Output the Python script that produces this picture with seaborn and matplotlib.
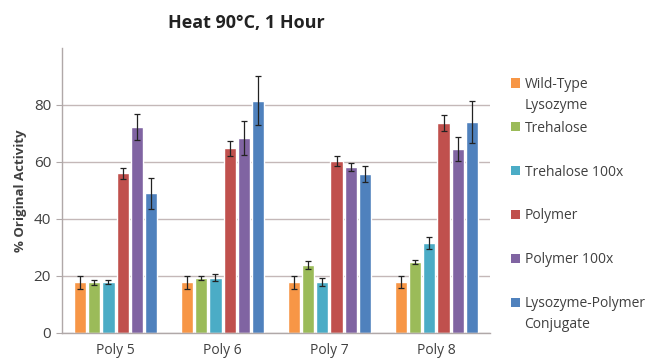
"""
Heat 90°C, 1 Hour - actividad residual de lisozima
"""

import numpy as np
import pandas as pd
import matplotlib.pyplot as plt
import seaborn as sns
from matplotlib.patches import Rectangle

categories = ["Poly 5", "Poly 6", "Poly 7", "Poly 8"]
series = ["Wild-Type\nLysozyme", "Trehalose", "Trehalose 100x",
          "Polymer", "Polymer 100x", "Lysozyme-Polymer\nConjugate"]

wild_type = [17.7, 17.7, 17.7, 17.8]
trehalose = [17.7, 19.2, 23.7, 24.9]
trehalose_100x = [17.9, 19.3, 17.8, 31.6]
polymer = [56.0, 64.8, 60.3, 73.6]
polymer_100x = [72.3, 68.3, 58.2, 64.6]
conjugate = [49.0, 81.5, 55.8, 74.0]

wild_type_err = [2.2, 2.2, 2.2, 2.2]
trehalose_err = [1.0, 0.8, 1.4, 0.7]
trehalose_100x_err = [0.6, 1.2, 1.3, 2.2]
polymer_err = [2.0, 2.7, 1.8, 2.7]
polymer_100x_err = [4.5, 6.0, 1.5, 4.3]
conjugate_err = [5.5, 8.5, 2.8, 7.4]

colors = ["#F79646", "#9BBB59", "#4BACC6", "#C0504D", "#8064A2", "#4F81BD"]

values = [wild_type, trehalose, trehalose_100x, polymer, polymer_100x, conjugate]
errors = [wild_type_err, trehalose_err, trehalose_100x_err,
          polymer_err, polymer_100x_err, conjugate_err]

rows = []
for s, vals, errs in zip(series, values, errors):
    for c, v, e in zip(categories, vals, errs):
        rows.append({"category": c, "series": s, "value": v, "err": e})
df = pd.DataFrame(rows)

sns.set_style("white")
plt.rcParams['font.family'] = ['Open Sans', 'DejaVu Sans']
text_color = "#404040"
axis_color = "#b0a8a8"

fig = plt.figure(figsize=(6.54, 3.63), dpi=100)
ax = fig.add_axes([0.095, 0.083, 0.654, 0.785])

sns.barplot(data=df, x="category", y="value", hue="series", hue_order=series,
            order=categories, palette=colors, width=0.8, gap=0.14,
            errorbar=None, saturation=1, ax=ax, legend=False)

# barras de error por serie
for container, s in zip(ax.containers, series):
    sub = df[df["series"] == s].set_index("category").loc[categories]
    xs = [p.get_x() + p.get_width() / 2 for p in container.patches]
    ax.errorbar(xs, sub["value"], yerr=sub["err"], fmt="none",
                ecolor="#222222", elinewidth=0.9, capsize=2.0, capthick=0.9)

ax.set_ylim(0, 100)
ax.set_yticks([0, 20, 40, 60, 80])
ax.yaxis.grid(True, color="#c4b8b8", linewidth=1.0)
ax.set_axisbelow(True)
ax.set_xlim(-0.5, 3.5)

for side in ["top", "right"]:
    ax.spines[side].set_visible(False)
for side in ["left", "bottom"]:
    ax.spines[side].set_color(axis_color)
    ax.spines[side].set_linewidth(1.0)

ax.set_xticks(np.arange(len(categories)) + 0.5, minor=True)
ax.tick_params(axis="x", which="major", length=0, pad=7,
               labelsize=10, labelcolor=text_color)
ax.tick_params(axis="x", which="minor", length=4, color=axis_color, direction="out")
ax.tick_params(axis="y", length=4, color=axis_color, direction="out",
               labelsize=11, labelcolor=text_color, pad=4)
ax.tick_params(bottom=True, left=True)

ax.set_xlabel("")
ax.set_ylabel("% Original Activity", fontsize=9.5, fontweight="bold",
              color=text_color, labelpad=5)

fig.text(0.376, 0.937, "Heat 90°C, 1 Hour", ha="center", va="center",
         fontsize=13, fontweight="bold", color="#222222")

# leyenda estilo Excel: huecos iguales, texto alineado arriba con el cuadro
y0 = 1 - 83 / 363
step = 43.8 / 363
sq_w, sq_h = 9 / 654, 9 / 363
for i, (label, color) in enumerate(zip(series, colors)):
    yc = y0 - i * step
    fig.patches.append(Rectangle((0.781, yc - sq_h / 2), sq_w, sq_h,
                                 facecolor=color, edgecolor="none",
                                 transform=fig.transFigure, figure=fig))
    fig.text(0.802, yc + 6 / 363, label, ha="left", va="top", fontsize=10,
             color=text_color, linespacing=1.55)

fig.savefig("out.png", dpi=100)
